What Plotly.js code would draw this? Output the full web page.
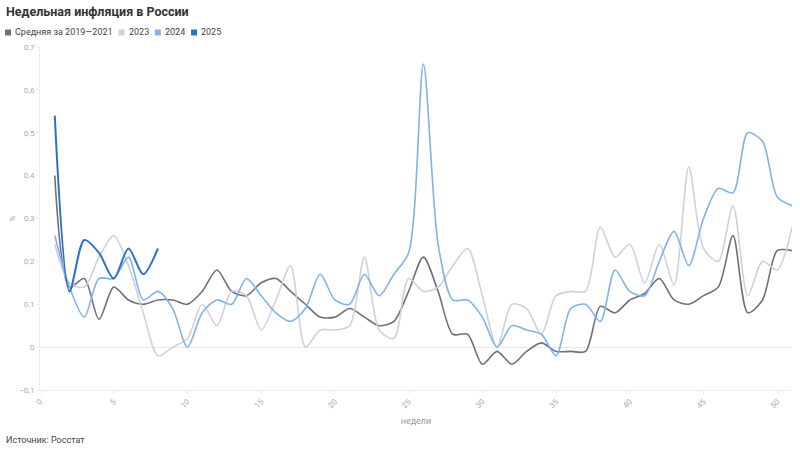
<!DOCTYPE html>
<html><head><meta charset="utf-8">
<script src="https://cdn.plot.ly/plotly-3.0.1.min.js"></script>
<style>body{margin:0;background:#fff}#c{width:800px;height:449px}</style>
</head><body><div id="c"></div>
<script>
const seriesNames = ["Средняя за 2019—2021", "2023", "2024", "2025"];
const seriesColors = ["#6f6f80", "#d0d0dc", "#80b3eb", "#2f6fcc"];
const weeksFull = Array.from({length: 51}, (_, i) => i + 1);
const weeks2025 = [1, 2, 3, 4, 5, 6, 7, 8];
const avg1921 = [0.40, 0.14, 0.16, 0.065, 0.14, 0.11, 0.10, 0.11, 0.11, 0.10,
  0.13, 0.18, 0.13, 0.12, 0.15, 0.16, 0.13, 0.10, 0.07, 0.07,
  0.09, 0.07, 0.05, 0.06, 0.13, 0.21, 0.13, 0.03, 0.03, -0.04,
  -0.01, -0.04, -0.01, 0.01, -0.01, -0.01, -0.01, 0.095, 0.08, 0.11,
  0.125, 0.16, 0.11, 0.10, 0.12, 0.14, 0.26, 0.08, 0.11, 0.225, 0.225];
const y2023 = [0.24, 0.15, 0.14, 0.21, 0.26, 0.19, 0.08, -0.02, 0.00, 0.02,
  0.10, 0.05, 0.13, 0.12, 0.04, 0.11, 0.19, 0.00, 0.04, 0.04,
  0.05, 0.21, 0.04, 0.02, 0.16, 0.13, 0.14, 0.19, 0.23, 0.12,
  0.00, 0.10, 0.09, 0.03, 0.12, 0.13, 0.13, 0.28, 0.21, 0.24,
  0.15, 0.24, 0.145, 0.42, 0.23, 0.20, 0.33, 0.12, 0.20, 0.18, 0.28];
const y2024 = [0.26, 0.14, 0.07, 0.16, 0.16, 0.21, 0.11, 0.13, 0.09, 0.00,
  0.08, 0.11, 0.10, 0.16, 0.12, 0.08, 0.06, 0.09, 0.17, 0.11,
  0.10, 0.17, 0.12, 0.17, 0.22, 0.66, 0.24, 0.11, 0.11, 0.07,
  0.00, 0.05, 0.04, 0.03, -0.02, 0.09, 0.10, 0.06, 0.18, 0.13,
  0.12, 0.20, 0.27, 0.19, 0.30, 0.37, 0.36, 0.50, 0.48, 0.35, 0.33];
const y2025 = [0.54, 0.13, 0.25, 0.22, 0.16, 0.23, 0.17, 0.23];
const xTicks = [0, 5, 10, 15, 20, 25, 30, 35, 40, 45, 50];
const yTicks = [-0.1, 0, 0.1, 0.2, 0.3, 0.4, 0.5, 0.6, 0.7];

const W = 800, H = 449, ML = 40, MR = 8, MT = 47, MB = 59;
const PW = W - ML - MR, PH = H - MT - MB;
const px2x = px => (px - ML) / PW;
const py2y = py => (H - MB - py) / PH;

const xs = [weeksFull, weeksFull, weeksFull, weeks2025];
const ys = [avg1921, y2023, y2024, y2025];
const traces = [];
for (let i = 0; i < 4; i++) {
  traces.push({x: xs[i], y: ys[i], type: 'scatter', mode: 'lines',
    line: {color: seriesColors[i], width: i === 3 ? 2 : 1.6, shape: 'spline', smoothing: 0.8},
    showlegend: false, hoverinfo: 'skip', name: seriesNames[i]});
}

// custom legend (squares + text), laid out with measured text widths
const legFont = 9, legFamily = 'Roboto';
const ctx = document.createElement('canvas').getContext('2d');
ctx.font = legFont + 'px ' + legFamily;
const shapes = [], annotations = [];
let cx = 5;
const legY = 32.5, sq = 6;
for (let i = 0; i < 4; i++) {
  shapes.push({type: 'rect', xref: 'paper', yref: 'paper',
    x0: px2x(cx), x1: px2x(cx + sq), y0: py2y(legY + sq / 2), y1: py2y(legY - sq / 2),
    fillcolor: seriesColors[i], line: {width: 0}});
  const tx = cx + sq + 3;
  annotations.push({text: seriesNames[i], xref: 'paper', yref: 'paper', x: px2x(tx), y: py2y(legY),
    xanchor: 'left', yanchor: 'middle', showarrow: false, xshift: -1,
    font: {family: legFamily, size: legFont, color: '#444'}});
  cx = tx + ctx.measureText(seriesNames[i]).width + 7;
}
annotations.push({text: 'Источник: Росстат', xref: 'paper', yref: 'paper', x: px2x(4), y: py2y(440),
  xanchor: 'left', yanchor: 'middle', showarrow: false, font: {size: 9, color: '#444'}});

const layout = {
  width: W, height: H,
  margin: {l: ML, r: MR, t: MT, b: MB},
  paper_bgcolor: '#fff', plot_bgcolor: '#fff',
  separators: ', ',
  font: {family: 'Roboto, sans-serif', size: 8, color: '#aaaaaa'},
  title: {text: '<b>Недельная инфляция в России</b>', x: 6 / W, xanchor: 'left', y: 1 - 12 / H, yanchor: 'middle',
    font: {family: 'Roboto, sans-serif', size: 12.5, color: '#333'}},
  showlegend: false,
  xaxis: {range: [0, 51], tickvals: xTicks, tickangle: -45, showgrid: false, zeroline: false,
    showline: true, linecolor: '#eeeeee', ticks: 'outside', ticklen: 3, tickcolor: '#eeeeee',
    tickfont: {size: 8, color: '#aaaaaa'},
    title: {text: 'недели', font: {size: 9, color: '#999'}, standoff: 8}},
  yaxis: {range: [-0.1, 0.7], tickvals: yTicks, showgrid: false, zeroline: true, zerolinecolor: '#e8e8e8', zerolinewidth: 1,
    showline: true, linecolor: '#eeeeee', ticks: 'outside', ticklen: 3, tickcolor: '#eeeeee',
    tickfont: {size: 8, color: '#aaaaaa'},
    title: {text: '%', font: {size: 8, color: '#999'}, standoff: 2}},
  shapes: shapes,
  annotations: annotations
};
Plotly.newPlot('c', traces, layout, {staticPlot: true});
</script></body></html>
